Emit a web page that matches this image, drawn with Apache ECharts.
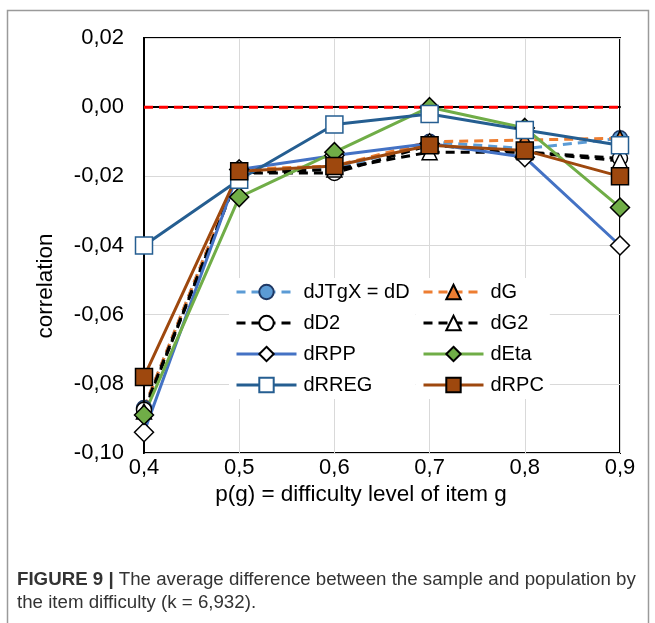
<!DOCTYPE html>
<html>
<head>
<meta charset="utf-8">
<script src="https://cdn.jsdelivr.net/npm/echarts@6/dist/echarts.min.js"></script>
<style>
html,body{margin:0;padding:0;background:#fff;}
#chart{width:655px;height:623px;}
</style>
</head>
<body>
<div id="chart"></div>
<script>
// ---- data ----
const categories = ['0,4', '0,5', '0,6', '0,7', '0,8', '0,9'];
const yTicks = [0.02, 0.00, -0.02, -0.04, -0.06, -0.08, -0.10];
const seriesNames = ['dJTgX = dD', 'dG', 'dD2', 'dG2', 'dRPP', 'dEta', 'dRREG', 'dRPC'];
const dD    = [-0.087, -0.018, -0.018, -0.010, -0.012, -0.009];
const dG    = [-0.087, -0.018, -0.017, -0.010, -0.0095, -0.009];
const dD2   = [-0.0875, -0.019, -0.019, -0.011, -0.013, -0.0148];
const dG2   = [-0.088, -0.019, -0.018, -0.013, -0.013, -0.0155];
const dRPP  = [-0.094, -0.018, -0.014, -0.0105, -0.0145, -0.040];
const dEta  = [-0.089, -0.026, -0.013, 0.000, -0.006, -0.029];
const dRREG = [-0.040, -0.021, -0.005, -0.002, -0.0066, -0.011];
const dRPC  = [-0.078, -0.0185, -0.017, -0.011, -0.0125, -0.020];
const zeroLine = [0, 0, 0, 0, 0, 0];

const FONT = '"Liberation Sans", Arial, sans-serif';

function mk(name, data, color, dashed, symbol, fill, border, size) {
  return {
    name: name, type: 'line', data: data,
    lineStyle: { color: color, width: 3, type: dashed ? [9, 6] : 'solid' },
    itemStyle: { color: fill, borderColor: border, borderWidth: 1.5 },
    symbol: symbol, symbolSize: size, showAllSymbol: true,
    emphasis: { disabled: true }, animation: false
  };
}

const series = [
  mk(seriesNames[0], dD, '#5B9BD5', true, 'circle', '#5B9BD5', '#1F3864', 15),
  mk(seriesNames[1], dG, '#ED7D31', true, 'triangle', '#ED7D31', '#000', 15),
  mk(seriesNames[2], dD2, '#000', true, 'circle', '#fff', '#000', 15),
  mk(seriesNames[3], dG2, '#000', true, 'triangle', '#fff', '#000', 15),
  mk(seriesNames[4], dRPP, '#4472C4', false, 'diamond', '#fff', '#000', 19),
  mk(seriesNames[5], dEta, '#70AD47', false, 'diamond', '#70AD47', '#000', 19),
  mk(seriesNames[6], dRREG, '#255E91', false, 'rect', '#fff', '#255E91', 17),
  mk(seriesNames[7], dRPC, '#9E480E', false, 'rect', '#9E480E', '#000', 17),
  {
    name: 'zero', type: 'line', data: zeroLine, symbol: 'none',
    lineStyle: { color: '#FF0000', width: 3, type: [9, 6] },
    emphasis: { disabled: true }, animation: false, z: 3
  }
];

function fmt(v) {
  const r = Math.round(v * 100) / 100;
  return (r === 0 ? 0 : r).toFixed(2).replace('.', ',');
}

const legendCommon = {
  orient: 'vertical', itemWidth: 60, itemHeight: 18, itemGap: 11,
  textStyle: { fontFamily: FONT, fontSize: 20, color: '#000', padding: [0, 0, 0, 2] },
  lineStyle: { width: 3 },
  backgroundColor: '#fff', padding: [4, 6, 4, 6], selectedMode: false
};

const chart = echarts.init(document.getElementById('chart'), null, { renderer: 'canvas' });
chart.setOption({
  animation: false,
  backgroundColor: '#fff',
  grid: { left: 144, right: 35, top: 38, bottom: 170, show: true, borderColor: '#000', borderWidth: 2, containLabel: false },
  xAxis: {
    type: 'category', data: categories, boundaryGap: false,
    axisLine: { lineStyle: { color: '#000', width: 2 } },
    axisTick: { show: false },
    axisLabel: { fontFamily: FONT, fontSize: 22, color: '#000', margin: 4 },
    splitLine: { show: true, lineStyle: { color: '#D9D9D9', width: 1 } }
  },
  yAxis: {
    type: 'value', min: -0.1, max: 0.02, interval: 0.02,
    axisLine: { show: true, lineStyle: { color: '#000', width: 2 } },
    axisTick: { show: false },
    axisLabel: { fontFamily: FONT, fontSize: 22, color: '#000', margin: 20, formatter: fmt },
    splitLine: { show: true, lineStyle: { color: '#D9D9D9', width: 1 } }
  },
  legend: [
    Object.assign({ left: 229, top: 278, data: seriesNames.filter((n, i) => i % 2 === 0) }, legendCommon),
    Object.assign({ left: 416, top: 278, data: seriesNames.filter((n, i) => i % 2 === 1) }, legendCommon)
  ],
  graphic: [
    { type: 'rect', shape: { x: 7.5, y: 10.5, width: 641, height: 700 }, style: { fill: 'none', stroke: '#9a9a9a', lineWidth: 1.5 }, z: -10, silent: true },
    { type: 'text', rotation: Math.PI / 2, x: 46, y: 286,
      style: { text: 'correlation', font: '22.5px ' + FONT, fill: '#000', align: 'center', verticalAlign: 'middle' } },
    { type: 'text', x: 361, y: 495,
      style: { text: 'p(g) = difficulty level of item g', font: '22.5px ' + FONT, fill: '#000', align: 'center', verticalAlign: 'middle' } },
    { type: 'text', x: 17, y: 580,
      style: { text: '{b|FIGURE 9 |} The average difference between the sample and population by', font: '18.7px ' + FONT, fill: '#333', verticalAlign: 'middle',
        rich: { b: { fontWeight: 'bold', fontFamily: FONT, fontSize: 18.7, fill: '#333' } } } },
    { type: 'text', x: 17, y: 603,
      style: { text: 'the item difficulty (k = 6,932).', font: '18.7px ' + FONT, fill: '#333', verticalAlign: 'middle' } }
  ],
  series: series
});
</script>
</body>
</html>
